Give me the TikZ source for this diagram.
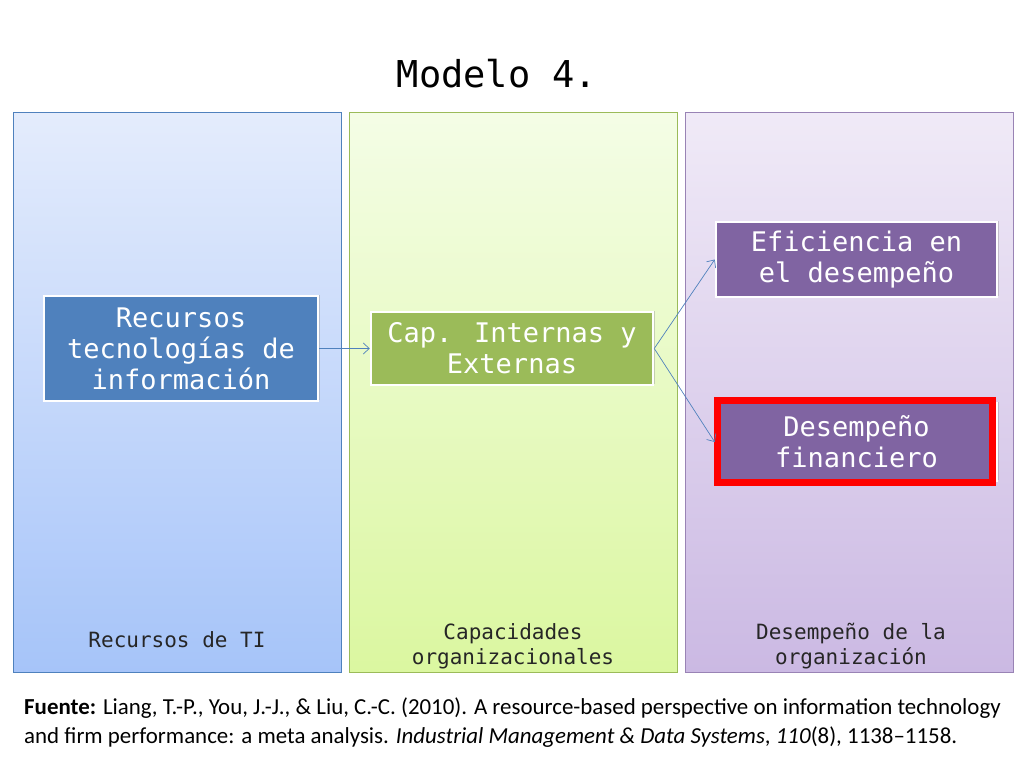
\documentclass[tikz,border=0pt]{standalone}
\usepackage{fontspec}
\setmainfont{DejaVu Sans Mono}
\newfontfamily\carlito{Carlito}
\usetikzlibrary{arrows.meta,shadows}
\definecolor{cblue}{HTML}{4F81BD}
\definecolor{cgreen}{HTML}{9BBB59}
\definecolor{cpurple}{HTML}{8064A2}
\definecolor{bluetop}{HTML}{E4ECFC}
\definecolor{bluebot}{HTML}{A6C4F9}
\definecolor{greentop}{HTML}{F4FDE6}
\definecolor{greenbot}{HTML}{DBF7A0}
\definecolor{purptop}{HTML}{F0EAF7}
\definecolor{purpbot}{HTML}{CBB9E3}
\tikzset{
  column/.style={rectangle, minimum width=328pt, minimum height=560pt, inner sep=0pt, line width=0.8pt},
  itembox/.style={rectangle, draw=white, line width=2.5pt, inner sep=0pt, text=white,
    font=\fontsize{27}{31}\selectfont, align=center,
    drop shadow={opacity=0.35, shadow xshift=1.5pt, shadow yshift=1.5pt}},
  collabel/.style={font=\fontsize{21}{25}\selectfont, align=center, text=black!85},
  link/.style={draw=cblue, line width=0.7pt, -{Straight Barb[length=6pt,width=11pt]}},
  foot/.style={font=\carlito\fontsize{22.9}{26}\selectfont, anchor=base west, inner sep=0pt}
}
\begin{document}
\begin{tikzpicture}[x=1pt,y=-1pt]
\useasboundingbox[fill=white] (0,0) rectangle (1022,768);
\node[font=\fontsize{37}{40}\selectfont, anchor=base, inner sep=0pt] (title) at (497,88) {Modelo 4.};
\node[column, draw=cblue, top color=bluetop, bottom color=bluebot] (col1) at (177,392) {};
\node[column, draw=cgreen, top color=greentop, bottom color=greenbot] (col2) at (513,392) {};
\node[column, draw=cpurple!80, top color=purptop, bottom color=purpbot] (col3) at (849,392) {};
\node[collabel, anchor=base] (lab1) at (177,647) {Recursos de TI};
\node[collabel, anchor=base] (lab2) at (513,664) {Capacidades\\organizacionales};
\node[collabel, anchor=base] (lab3) at (851,664) {Desempeño de la\\organización};
\node[itembox, fill=cblue, minimum width=274pt, minimum height=105pt] (rec) at (181,348.5) {Recursos\\tecnologías de\\información};
\node[itembox, fill=cgreen, minimum width=282pt, minimum height=73pt] (cap) at (512,348.5) {Cap. Internas y\\Externas};
\node[itembox, fill=cpurple, minimum width=281pt, minimum height=75pt] (efi) at (856.5,259.5) {Eficiencia en\\el desempeño};
\node[itembox, fill=cpurple, minimum width=281pt, minimum height=78pt] (des) at (856.5,442) {Desempeño\\financiero};
\node[draw=red, line width=7pt, minimum width=275pt, minimum height=82pt, inner sep=0pt] (hl) at (855,441.5) {};
\draw[link] (rec.east) -- (cap.west);
\draw[link] (cap.east) -- (efi.west);
\draw[link] (cap.east) -- (des.west);
\node[foot] (f1) at (24,714) {\textbf{Fuente:} Liang, T.-P., You, J.-J., \& Liu, C.-C. (2010). A resource-based perspective on information technology};
\node[foot] (f2) at (24,743) {and firm performance: a meta analysis. \textit{Industrial Management \& Data Systems}, \textit{110}(8), 1138–1158.};
\end{tikzpicture}
\end{document}
